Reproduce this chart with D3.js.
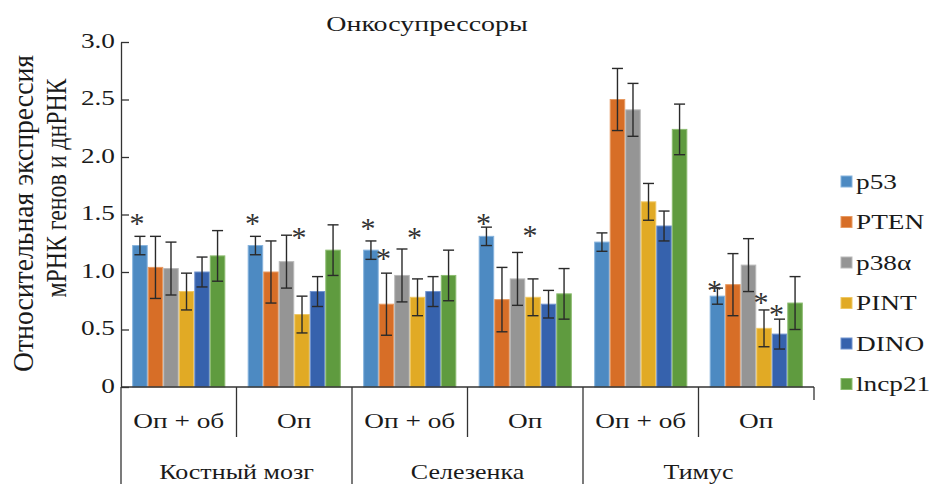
<!DOCTYPE html>
<html><head><meta charset="utf-8">
<script src="https://cdn.jsdelivr.net/npm/d3@7"></script>
<style>
body{margin:0;background:#fff}
svg{display:block}
text{font-family:"Liberation Serif","Times New Roman",serif;fill:#1a1a1a}
</style>
</head><body>
<svg id="c" width="930" height="484"></svg>
<script>
// ---------- data ----------
const groupKeys = ["bm1","bm2","sp1","sp2","th1","th2"];
const subLabels = ["Оп + об","Оп","Оп + об","Оп","Оп + об","Оп"];
const topLabels = ["Костный мозг","Селезенка","Тимус"];
const seriesNames = ["p53","PTEN","p38α","PINT","DINO","lncp21"];
const seriesColors = ["#4d8ac2","#d76e27","#959595","#e1aa25","#3662ad","#5f9b3f"];
const seriesStroke = ["#86b3dd","#e79a62","#b9b9b9","#efc763","#7193cf","#8cbc70"];

const p53    = [1.23, 1.23, 1.19, 1.31, 1.26, 0.79];
const PTEN   = [1.04, 1.00, 0.72, 0.76, 2.50, 0.89];
const p38a   = [1.03, 1.09, 0.97, 0.94, 2.41, 1.06];
const PINT   = [0.83, 0.63, 0.78, 0.78, 1.61, 0.51];
const DINO   = [1.00, 0.83, 0.83, 0.72, 1.40, 0.46];
const lncp21 = [1.14, 1.19, 0.97, 0.81, 2.24, 0.73];

const errP53    = [0.08, 0.08, 0.08, 0.08, 0.08, 0.07];
const errPTEN   = [0.27, 0.27, 0.27, 0.28, 0.27, 0.27];
const errP38a   = [0.23, 0.23, 0.23, 0.23, 0.23, 0.23];
const errPINT   = [0.16, 0.16, 0.16, 0.16, 0.16, 0.16];
const errDINO   = [0.13, 0.13, 0.13, 0.12, 0.13, 0.13];
const errLncp21 = [0.22, 0.22, 0.22, 0.22, 0.22, 0.23];

// significance stars: group index, series index, level (in data units)
const starGroup  = [0, 1, 1, 2, 2, 2, 3, 3, 5, 5, 5];
const starSeries = [0, 0, 3, 0, 1, 3, 0, 3, 0, 3, 4];
const starLevel  = [1.46, 1.46, 1.34, 1.42, 1.16, 1.34, 1.46, 1.36, 0.88, 0.77, 0.67];

const tickValues = [0, 0.5, 1.0, 1.5, 2.0, 2.5, 3.0];
const tickLabels = ["0", "0.5", "1.0", "1.5", "2.0", "2.5", "3.0"];

const titleText = "Онкосупрессоры";
const yTitle1 = "Относительная экспрессия";
const yTitle2 = "мРНК генов и днРНК";

// ---------- build ----------
const values = [p53, PTEN, p38a, PINT, DINO, lncp21];
const errors = [errP53, errPTEN, errP38a, errPINT, errDINO, errLncp21];

const SX = 1.3; // horizontal text stretch of the source figure
const svg = d3.select("#c");
const X0 = 121, X1 = 814, Y0 = 387, Y1 = 42, BOTTOM = 484;

const x0 = d3.scaleBand().domain(groupKeys).range([X0, X1]).paddingInner(0).paddingOuter(0);
const x1 = d3.scaleBand().domain(seriesNames).range([0, x0.bandwidth()]).paddingInner(0).paddingOuter(0.72);
const y = d3.scaleLinear().domain([0, 3]).range([Y0, Y1]);
const color = d3.scaleOrdinal().domain(seriesNames).range(seriesColors);
const stroke = d3.scaleOrdinal().domain(seriesNames).range(seriesStroke);

function txt(x, yy, s, size, anchor, extra) {
  return svg.append("text")
    .attr("transform", `translate(${x},${yy}) scale(${SX},1)` + (extra || ""))
    .attr("text-anchor", anchor || "middle")
    .style("font-size", size + "px")
    .text(s);
}

// bars
const rows = [];
groupKeys.forEach((g, gi) => seriesNames.forEach((s, si) => {
  rows.push({g, s, gi, si, v: values[si][gi], e: errors[si][gi]});
}));

const barG = svg.append("g");
barG.selectAll("rect").data(rows).join("rect")
  .attr("x", d => x0(d.g) + x1(d.s) + 0.5)
  .attr("y", d => y(d.v))
  .attr("width", x1.bandwidth() - 1)
  .attr("height", d => y(0) - y(d.v))
  .attr("fill", d => color(d.s))
  .attr("stroke", d => stroke(d.s))
  .attr("stroke-width", 1);

// error bars
const cap = 5.5;
const eg = barG.selectAll("g.err").data(rows).join("g").attr("class", "err")
  .attr("stroke", "#2a2a2a").attr("stroke-width", 1.4);
const cxOf = d => x0(d.g) + x1(d.s) + x1.bandwidth() / 2;
eg.append("line")
  .attr("x1", cxOf).attr("x2", cxOf)
  .attr("y1", d => y(d.v + d.e)).attr("y2", d => y(d.v - d.e));
eg.append("line")
  .attr("x1", d => cxOf(d) - cap).attr("x2", d => cxOf(d) + cap)
  .attr("y1", d => y(d.v + d.e)).attr("y2", d => y(d.v + d.e));
eg.append("line")
  .attr("x1", d => cxOf(d) - cap).attr("x2", d => cxOf(d) + cap)
  .attr("y1", d => y(d.v - d.e)).attr("y2", d => y(d.v - d.e));

// stars
const starG = svg.append("g");
starGroup.forEach((gi, k) => {
  const s = seriesNames[starSeries[k]];
  const cx = x0(groupKeys[gi]) + x1(s) + x1.bandwidth() / 2 - 3;
  starG.append("text")
    .attr("x", cx).attr("y", y(starLevel[k]) + 14)
    .attr("text-anchor", "middle")
    .attr("fill", "#333")
    .style("fill", "#333")
    .style("font-size", "30px")
    .text("*");
});

// y axis
const yAxis = d3.axisLeft(y).tickValues(tickValues).tickSizeInner(-8).tickSizeOuter(0)
  .tickFormat((d, i) => tickLabels[i]);
const ya = svg.append("g").attr("transform", `translate(${X0},0)`).call(yAxis);
ya.select(".domain").attr("stroke", "#333").attr("stroke-width", 1.3);
ya.selectAll(".tick line").attr("stroke", "#333").attr("stroke-width", 1.3);
ya.selectAll(".tick text")
  .attr("x", null).attr("dy", null)
  .attr("transform", `translate(-6,5) scale(${SX},1)`)
  .attr("text-anchor", "end")
  .style("font-size", "21px")
  .style("font-family", '"Liberation Serif","Times New Roman",serif')
  .attr("fill", "#1a1a1a");

// category axis lines
const lines = svg.append("g").attr("stroke", "#333").attr("stroke-width", 1.3);
lines.append("line").attr("x1", X0).attr("x2", X1).attr("y1", Y0).attr("y2", Y0);
lines.append("line").attr("x1", X0).attr("x2", X0).attr("y1", Y0).attr("y2", BOTTOM);
groupKeys.forEach((g, i) => {
  if (i === 0) return;
  const xx = x0(g);
  lines.append("line").attr("x1", xx).attr("x2", xx).attr("y1", Y0)
    .attr("y2", i % 2 === 0 ? BOTTOM : 437);
});
lines.append("line").attr("x1", X1).attr("x2", X1).attr("y1", Y0).attr("y2", 400);

// category labels
groupKeys.forEach((g, i) => {
  txt(x0(g) + x0.bandwidth() / 2, 427.5, subLabels[i], 21, "middle");
});
topLabels.forEach((t, i) => {
  const cx = x0(groupKeys[2 * i]) + x0.bandwidth();
  txt(cx, 479, t, 20, "middle");
});

// title
txt(427, 31, titleText, 21.5, "middle");

// y title
svg.append("text")
  .attr("transform", `translate(33,213.5) scale(${SX},1) rotate(-90)`)
  .attr("text-anchor", "middle").style("font-size", "23px")
  .attr("textLength", 317).attr("lengthAdjust", "spacingAndGlyphs")
  .text(yTitle1);
svg.append("text")
  .attr("transform", `translate(66,188) scale(${SX},1) rotate(-90)`)
  .attr("text-anchor", "middle").style("font-size", "23px")
  .attr("textLength", 219).attr("lengthAdjust", "spacingAndGlyphs")
  .text(yTitle2);

// legend
const leg = svg.append("g");
seriesNames.forEach((s, i) => {
  const cy = 181.5 + 40.5 * i;
  leg.append("rect").attr("x", 841).attr("y", cy - 5.5).attr("width", 11).attr("height", 11)
    .attr("fill", color(s)).attr("stroke", stroke(s)).attr("stroke-width", 1);
  txt(856, cy + 7, s, 21, "start");
});
</script>
</body></html>
